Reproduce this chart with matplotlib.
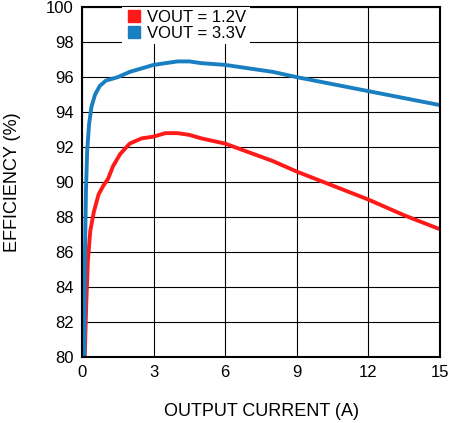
import matplotlib
matplotlib.use("Agg")
import matplotlib.pyplot as plt
from matplotlib.lines import Line2D

plt.rcParams['font.family'] = ['Liberation Sans', 'DejaVu Sans']

# efficiency curves
i_12 = [0.12, 0.18, 0.25, 0.35, 0.5, 0.7, 0.9, 1.1, 1.3, 1.6, 2.0, 2.5, 3.0, 3.5, 4.0, 4.5, 5.0, 6.0, 7.0, 8.0, 9.0, 10.5, 12.0, 13.5, 15.0]
eff_12 = [80.0, 83.0, 85.5, 87.2, 88.3, 89.3, 89.8, 90.2, 90.9, 91.6, 92.2, 92.5, 92.6, 92.8, 92.8, 92.7, 92.5, 92.2, 91.7, 91.2, 90.6, 89.8, 89.0, 88.1, 87.3]
i_33 = [0.1, 0.13, 0.17, 0.22, 0.3, 0.4, 0.55, 0.75, 1.0, 1.5, 2.0, 2.5, 3.0, 3.5, 4.0, 4.5, 5.0, 6.0, 7.0, 8.0, 9.0, 10.5, 12.0, 13.5, 15.0]
eff_33 = [80.0, 86.0, 89.5, 91.8, 93.3, 94.3, 95.0, 95.5, 95.8, 96.0, 96.3, 96.5, 96.7, 96.8, 96.9, 96.9, 96.8, 96.7, 96.5, 96.3, 96.0, 95.6, 95.2, 94.8, 94.4]

RED = '#ff1a1a'
BLUE = '#1a7fc1'

fig = plt.figure(figsize=(4.5, 4.23), dpi=100)
ax = fig.add_axes([0.182, 0.156, 0.796, 0.827])
ax.plot(i_12, eff_12, color=RED, lw=2.8)
ax.plot(i_33, eff_33, color=BLUE, lw=2.8)
ax.set_xlim(0, 15)
ax.set_ylim(80, 100)
ax.set_xticks(range(0, 16, 3))
ax.set_yticks(range(80, 101, 2))
ax.grid(True, color='black', lw=0.8)
ax.tick_params(length=0, labelsize=12, pad=6)
for s in ax.spines.values():
    s.set_linewidth(1.5)
ax.set_xlabel('OUTPUT CURRENT (A)', fontsize=13, labelpad=16)
ax.set_ylabel('EFFICIENCY (%)', fontsize=13, labelpad=18)

handles = [Line2D([], [], ls='none', marker='s', ms=8, color=RED),
           Line2D([], [], ls='none', marker='s', ms=8, color=BLUE)]
leg = ax.legend(handles, ['VOUT = 1.2V', 'VOUT = 3.3V'], loc='upper left',
                bbox_to_anchor=(0.09, 1.025), frameon=True, fancybox=False,
                edgecolor='none', framealpha=1, fontsize=12,
                handletextpad=0.3, borderpad=0.2, labelspacing=0.05, handlelength=1)
fig.savefig('out.png', dpi=100)
